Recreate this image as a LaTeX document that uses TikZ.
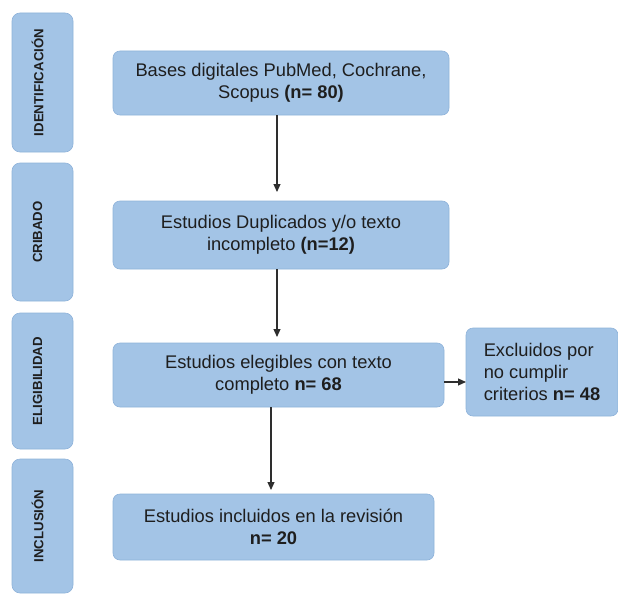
\documentclass[tikz,border=0pt]{standalone}
\usepackage{fontspec}
\setmainfont{Liberation Sans}
\usetikzlibrary{arrows.meta}
\definecolor{boxfill}{HTML}{A3C4E6}
\definecolor{boxline}{HTML}{8FB3DA}
\definecolor{txt}{HTML}{1E1E1E}
\definecolor{arrcol}{HTML}{2E2E2E}
\begin{document}
\begin{tikzpicture}[x=1pt,y=-1pt,
  every node/.style={inner sep=0pt, outer sep=0pt},
  stepbox/.style={draw=boxline, line width=0.6pt, fill=boxfill, rounded corners=7pt,
     text=txt, align=center, font=\fontsize{18.3}{22}\selectfont},
  phasebar/.style={draw=boxline, line width=0.6pt, fill=boxfill, rounded corners=8pt,
     minimum width=61pt},
  phaselab/.style={rotate=90, text=txt, font=\fontsize{13.2}{15}\selectfont\bfseries},
  arr/.style={draw=arrcol, line width=1.1pt, -{Triangle[length=8pt,width=7pt]}}
]
\useasboundingbox (0,0) rectangle (618,594);
\fill[white] (0,0) rectangle (618,594);

% phase bars
\node[phasebar, minimum height=139pt] (b1) at (42.5,82.5) {};
\node[phasebar, minimum height=138pt] (b2) at (42.5,232) {};
\node[phasebar, minimum height=136pt] (b3) at (42.5,381) {};
\node[phasebar, minimum height=134pt] (b4) at (42.5,526) {};
\node[phaselab] (l1) at ([xshift=-5pt]b1.center) {IDENTIFICACIÓN};
\node[phaselab] (l2) at ([xshift=-5pt]b2.center) {CRIBADO};
\node[phaselab] (l3) at ([xshift=-5pt]b3.center) {ELIGIBILIDAD};
\node[phaselab] (l4) at ([xshift=-5pt]b4.center) {INCLUSIÓN};

% main boxes
\node[stepbox, minimum width=336pt, minimum height=64pt] (s1) at (281,83)
  {Bases digitales PubMed, Cochrane,\\Scopus \textbf{(n= 80)}};
\node[stepbox, minimum width=336pt, minimum height=68pt] (s2) at (281,235)
  {Estudios Duplicados y/o texto\\incompleto \textbf{(n=12)}};
\node[stepbox, minimum width=331pt, minimum height=64pt] (s3) at (278.5,375)
  {Estudios elegibles con texto\\completo \textbf{n= 68}};
\node[stepbox, minimum width=152pt, minimum height=88pt, align=left] (ex) at (542,372)
  {Excluidos por\\no cumplir\\criterios \textbf{n= 48}};
\node[stepbox, minimum width=321pt, minimum height=66pt] (s4) at (273.5,527)
  {Estudios incluidos en la revisión\\\textbf{n= 20}};

% connectors
\coordinate (rs) at ([yshift=-7pt]s3.east);
\draw[arr] ([xshift=-4pt]s1.south) -- ([xshift=-4pt,yshift=9pt]s2.north);
\draw[arr] ([xshift=-4pt]s2.south) -- ([xshift=-1.5pt,yshift=6pt]s3.north);
\draw[arr] ([xshift=-7.5pt]s3.south) -- ([xshift=-2.5pt,yshift=4pt]s4.north);
\draw[arr] (rs) -- (rs -| ex.west);
\end{tikzpicture}
\end{document}
